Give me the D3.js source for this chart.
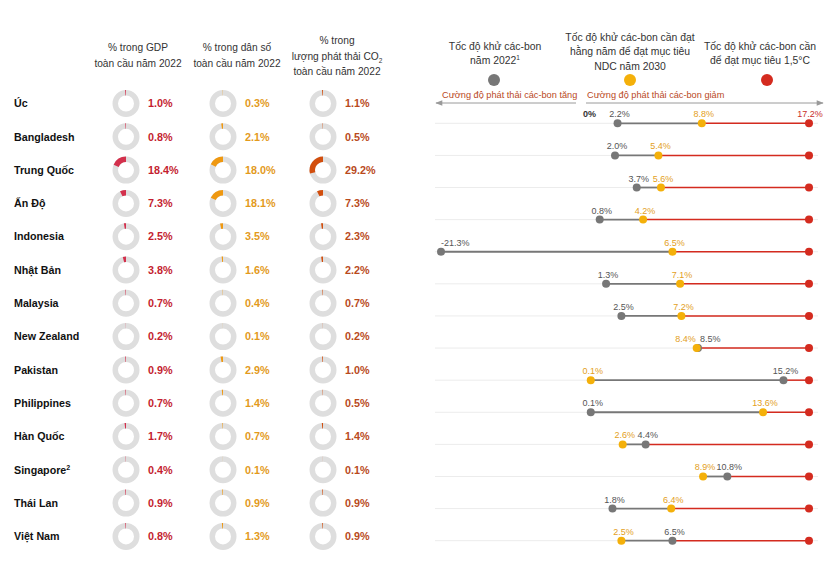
<!DOCTYPE html>
<html>
<head>
<meta charset="utf-8">
<script src="https://cdn.jsdelivr.net/npm/d3@7"></script>
<style>
  html, body { margin: 0; padding: 0; background: #fff; }
  svg { display: block; font-family: "Liberation Sans", Arial, Helvetica, sans-serif; }
</style>
</head>
<body>
<svg id="chart" width="830" height="575"></svg>
<script>
// ---------- DATA ----------
const countries = ["Úc", "Bangladesh", "Trung Quốc", "Ấn Độ", "Indonesia", "Nhật Bản", "Malaysia",
  "New Zealand", "Pakistan", "Philippines", "Hàn Quốc", "Singapore", "Thái Lan", "Việt Nam"];
const countrySup = ["", "", "", "", "", "", "", "", "", "", "", "2", "", ""];
const gdpShare = [1.0, 0.8, 18.4, 7.3, 2.5, 3.8, 0.7, 0.2, 0.9, 0.7, 1.7, 0.4, 0.9, 0.8];
const popShare = [0.3, 2.1, 18.0, 18.1, 3.5, 1.6, 0.4, 0.1, 2.9, 1.4, 0.7, 0.1, 0.9, 1.3];
const co2Share = [1.1, 0.5, 29.2, 7.3, 2.3, 2.2, 0.7, 0.2, 1.0, 0.5, 1.4, 0.1, 0.9, 0.9];
const rate2022 = [2.2, 2.0, 3.7, 0.8, -21.3, 1.3, 2.5, 8.5, 15.2, 0.1, 4.4, 10.8, 1.8, 6.5];
const rateNDC  = [8.8, 5.4, 5.6, 4.2, 6.5, 7.1, 7.2, 8.4, 0.1, 13.6, 2.6, 8.9, 6.4, 2.5];
const rate15   = [17.2, 17.2, 17.2, 17.2, 17.2, 17.2, 17.2, 17.2, 17.2, 17.2, 17.2, 17.2, 17.2, 17.2];

const leftHeaders = [
  ["% trong GDP", "toàn cầu năm 2022"],
  ["% trong dân số", "toàn cầu năm 2022"],
  ["% trong", "lượng phát thải CO|2", "toàn cầu năm 2022"]
];
const rightHeaders = [
  ["Tốc độ khử các-bon", "năm 2022|1"],
  ["Tốc độ khử các-bon cần đạt", "hằng năm để đạt mục tiêu", "NDC năm 2030"],
  ["Tốc độ khử các-bon cần", "để đạt mục tiêu 1,5°C"]
];
const arrowLabels = ["Cường độ phát thải các-bon tăng", "Cường độ phát thải các-bon giảm"];

// ---------- STYLE ----------
const svg = d3.select("#chart");
const ringColor = "#dedede";
const shareSeries = [
  { values: gdpShare, fill: "#d3304c", text: "#c41e30", cx: 126 },
  { values: popShare, fill: "#ef9810", text: "#e39a1c", cx: 223 },
  { values: co2Share, fill: "#d24e0d", text: "#b94a1c", cx: 323 }
];
const greyC = "#777777", yellowC = "#f4b00a", redC = "#d42b1f";

// ---------- LEFT PANEL ----------
const yLeft = d3.scaleLinear().domain([0, countries.length - 1]).range([103.5, 536.4]);

// headers
const hdrX = [138, 237, 337];
const hdrTop = [47, 47, 40];
leftHeaders.forEach((lines, j) => {
  lines.forEach((ln, k) => {
    const t = svg.append("text")
      .attr("x", hdrX[j]).attr("y", hdrTop[j] + k * 15.5 + 4)
      .attr("text-anchor", "middle").attr("font-size", 10.2).attr("fill", "#333");
    const parts = ln.split("|");
    t.append("tspan").text(parts[0]);
    if (parts[1]) t.append("tspan").attr("font-size", 6.5).attr("dy", 3).text(parts[1]);
  });
});

// country labels
countries.forEach((c, i) => {
  const t = svg.append("text").attr("x", 14).attr("y", yLeft(i)).attr("dy", "0.35em")
    .attr("font-size", 10.7).attr("font-weight", "bold").attr("fill", "#111");
  t.append("tspan").text(c);
  if (countrySup[i]) t.append("tspan").attr("font-size", 7).attr("dy", -4).text(countrySup[i]);
});

const arc = d3.arc().innerRadius(8).outerRadius(13.5);
const pct = d3.scaleLinear().domain([0, 100]).range([0, 2 * Math.PI]);

shareSeries.forEach(s => {
  const g = svg.append("g");
  const rows = g.selectAll("g.row").data(s.values).join("g")
    .attr("transform", (d, i) => `translate(${s.cx},${yLeft(i)})`);
  rows.append("path").attr("d", arc({ startAngle: 0, endAngle: 2 * Math.PI })).attr("fill", ringColor);
  rows.append("path").attr("d", d => arc({ startAngle: -pct(d), endAngle: 0 })).attr("fill", s.fill);
  rows.append("text").attr("x", 22).attr("dy", "0.35em")
    .attr("font-size", 10.8).attr("font-weight", "bold").attr("fill", s.text)
    .text(d => d.toFixed(1) + "%");
});

// ---------- RIGHT PANEL ----------
const x = d3.scaleLinear().domain([-21.3, 0, 17.2]).range([441, 589.5, 809]);
const yRight = d3.scaleLinear().domain([0, countries.length - 1]).range([123.3, 540.7]);

// headers
const rhX = [495, 630, 760];
const rhTop = [45.5, 36.5, 45.5];
rightHeaders.forEach((lines, j) => {
  lines.forEach((ln, k) => {
    const t = svg.append("text")
      .attr("x", rhX[j]).attr("y", rhTop[j] + k * 14.8 + 4)
      .attr("text-anchor", "middle").attr("font-size", 10.4).attr("fill", "#333");
    const parts = ln.split("|");
    t.append("tspan").text(parts[0]);
    if (parts[1]) t.append("tspan").attr("font-size", 6.5).attr("dy", -4).text(parts[1]);
  });
});
const legendDots = [{ cx: 494, c: greyC }, { cx: 630, c: yellowC }, { cx: 767, c: redC }];
svg.selectAll("circle.leg").data(legendDots).join("circle").attr("class", "leg")
  .attr("cx", d => d.cx).attr("cy", 80).attr("r", 6).attr("fill", d => d.c);

// arrows
const defs = svg.append("defs");
defs.append("marker").attr("id", "arr").attr("viewBox", "0 0 10 10").attr("refX", 9).attr("refY", 5)
  .attr("markerWidth", 9).attr("markerHeight", 7).attr("orient", "auto-start-reverse")
  .attr("markerUnits", "userSpaceOnUse")
  .append("path").attr("d", "M0,1 L10,5 L0,9 Z").attr("fill", "#9a9a9a");
svg.append("line").attr("x1", 576).attr("x2", 436).attr("y1", 103).attr("y2", 103)
  .attr("stroke", "#9a9a9a").attr("stroke-width", 1).attr("marker-end", "url(#arr)");
svg.append("line").attr("x1", 586).attr("x2", 823).attr("y1", 103).attr("y2", 103)
  .attr("stroke", "#9a9a9a").attr("stroke-width", 1).attr("marker-end", "url(#arr)");
svg.append("text").attr("x", 442).attr("y", 98).attr("font-size", 9.2).attr("fill", "#b9471c").text(arrowLabels[0]);
svg.append("text").attr("x", 587).attr("y", 98).attr("font-size", 9.2).attr("fill", "#b9471c").text(arrowLabels[1]);

// gridlines
svg.selectAll("line.grid").data(countries).join("line").attr("class", "grid")
  .attr("x1", 435).attr("x2", 818)
  .attr("y1", (d, i) => yRight(i)).attr("y2", (d, i) => yRight(i))
  .attr("stroke", "#ececec").attr("stroke-width", 1);

// 0% label
svg.append("text").attr("x", x(0)).attr("y", yRight(0) - 6).attr("text-anchor", "middle")
  .attr("font-size", 9).attr("font-weight", "bold").attr("fill", "#333").text("0%");

countries.forEach((c, i) => {
  const g = rate2022[i], n = rateNDC[i], r = rate15[i];
  const lo = Math.min(g, n), hi = Math.max(g, n);
  const y = yRight(i);
  svg.append("line").attr("x1", x(lo)).attr("x2", x(hi)).attr("y1", y).attr("y2", y)
    .attr("stroke", greyC).attr("stroke-width", 1.8);
  svg.append("line").attr("x1", x(hi)).attr("x2", x(r)).attr("y1", y).attr("y2", y)
    .attr("stroke", redC).attr("stroke-width", 1.5);
  svg.append("circle").attr("cx", x(r)).attr("cy", y).attr("r", 4).attr("fill", redC);
  svg.append("circle").attr("cx", x(g)).attr("cy", y).attr("r", 4).attr("fill", greyC);
  svg.append("circle").attr("cx", x(n)).attr("cy", y).attr("r", 4).attr("fill", yellowC);

  // labels
  const close = Math.abs(x(g) - x(n)) < 12;
  const gAnchor = g < -10 ? "start" : (close ? (g >= n ? "start" : "end") : "middle");
  const nAnchor = close ? (n > g ? "start" : "end") : "middle";
  const off = a => a === "start" ? 2 : (a === "end" ? -1 : 2);
  svg.append("text").attr("x", x(g) + (g < -10 ? 0 : off(gAnchor))).attr("y", y - 6)
    .attr("text-anchor", gAnchor).attr("font-size", 9).attr("fill", "#555")
    .text(d3.format(".1f")(g).replace("−", "-") + "%");
  svg.append("text").attr("x", x(n) + off(nAnchor)).attr("y", y - 6)
    .attr("text-anchor", nAnchor).attr("font-size", 9).attr("fill", "#e3a01c")
    .text(n.toFixed(1) + "%");
  if (i === 0) {
    svg.append("text").attr("x", x(r) + 1).attr("y", y - 6).attr("text-anchor", "middle")
      .attr("font-size", 9).attr("fill", "#c9302a").text(r.toFixed(1) + "%");
  }
});
</script>
</body>
</html>
